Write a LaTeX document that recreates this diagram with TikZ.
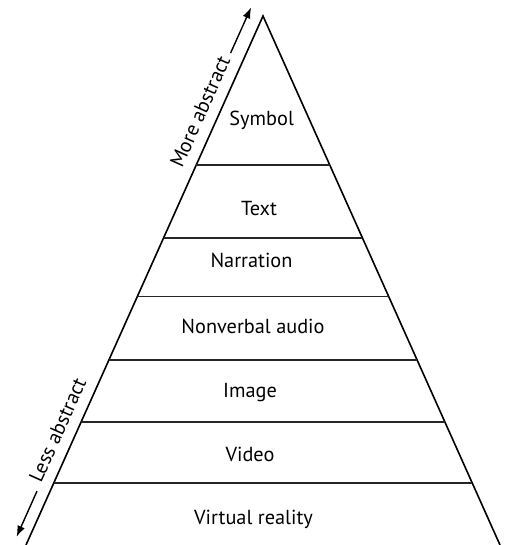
\documentclass[tikz,border=0pt]{standalone}
\usepackage{fontspec}
\setmainfont{PT Sans}
\usetikzlibrary{calc,arrows.meta}
\begin{document}
\begin{tikzpicture}[x=1pt,y=-1pt,
  edge/.style={line width=1.6pt, black, line join=miter},
  sep/.style={line width=1.3pt, black!85},
  lab/.style={font=\fontsize{20.3}{24}\selectfont, inner sep=0pt, anchor=base},
  side/.style={font=\fontsize{20.3}{24}\selectfont, inner sep=0pt, rotate=65.87},
  arr/.style={line width=1.4pt, -{Latex[length=11pt,width=8pt]}}]
\useasboundingbox (0,0) rectangle (509,545);
\coordinate (A) at (263,16);
\coordinate (BL) at (26,545);
\coordinate (BR) at (500,545);
\draw[edge] (BL) -- (A) -- (BR);
\foreach \h/\n in {165/1,238/2,296.5/3,360/4,422/5,483/6} {
  \coordinate (L\n) at ($(A)!{(\h-16)/529}!(BL)$);
  \coordinate (R\n) at ($(A)!{(\h-16)/529}!(BR)$);
  \draw[sep] (L\n) -- (R\n);
}
\node[lab] (symbol) at (261.7,126) {Symbol};
\node[lab] (text) at (259,215) {Text};
\node[lab] (narration) at (251.5,267) {Narration};
\node[lab] (nonverbal) at (253,333) {Nonverbal audio};
\node[lab] (image) at (250,397) {Image};
\node[lab] (video) at (250,461) {Video};
\node[lab] (vr) at (253.5,524) {Virtual reality};
\node[side] (more) at (200,111.5) {More abstract};
\node[side] (less) at (57.5,430) {Less abstract};
\coordinate (m1) at (230.6,53.0);
\coordinate (m2) at (251.1,7.4);
\coordinate (l1) at (37.0,491.1);
\coordinate (l2) at (16.6,536.8);
\draw[arr] (m1) -- (m2);
\draw[arr] (l1) -- (l2);
\end{tikzpicture}
\end{document}
